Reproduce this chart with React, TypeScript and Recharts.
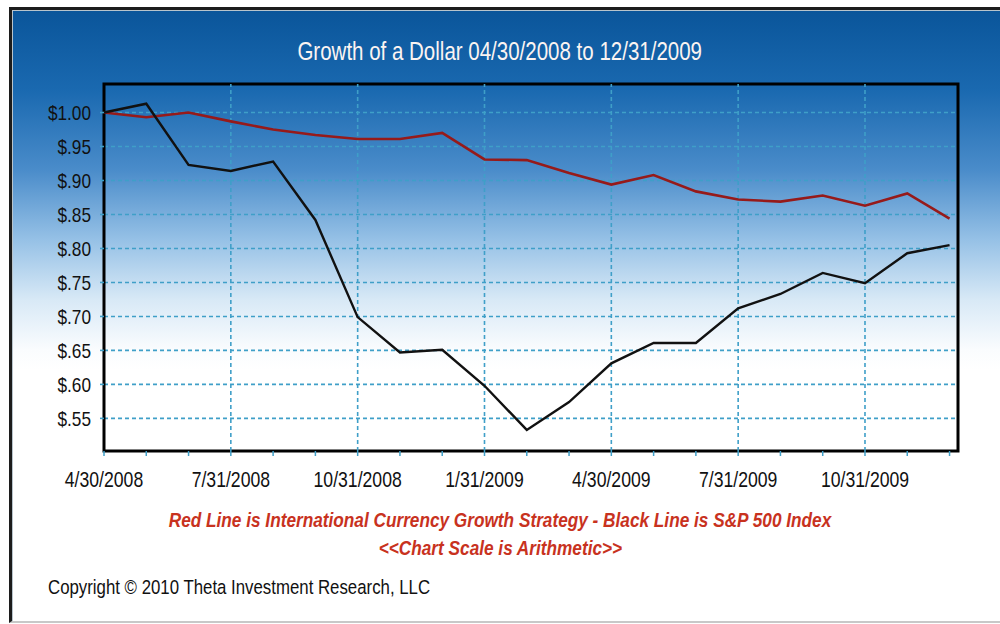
import React from 'react';
import { LineChart, Line, XAxis, YAxis, CartesianGrid, ReferenceLine, ReferenceArea } from 'recharts';

const monthLabels = [
  '4/30/2008', '5/31/2008', '6/30/2008', '7/31/2008', '8/31/2008', '9/30/2008',
  '10/31/2008', '11/30/2008', '12/31/2008', '1/31/2009', '2/28/2009', '3/31/2009',
  '4/30/2009', '5/31/2009', '6/30/2009', '7/31/2009', '8/31/2009', '9/30/2009',
  '10/31/2009', '11/30/2009', '12/31/2009',
];
const strategyValues = [
  1.0, 0.993, 1.0, 0.987, 0.975, 0.967, 0.961, 0.961, 0.97, 0.931, 0.93,
  0.911, 0.894, 0.908, 0.884, 0.872, 0.869, 0.878, 0.863, 0.881, 0.844,
];
const sp500Values = [
  1.0, 1.013, 0.923, 0.914, 0.928, 0.842, 0.699, 0.647, 0.651, 0.598, 0.533,
  0.574, 0.631, 0.661, 0.661, 0.712, 0.733, 0.764, 0.749, 0.793, 0.805,
];
const yTicks = [0.55, 0.6, 0.65, 0.7, 0.75, 0.8, 0.85, 0.9, 0.95, 1.0];
const yDomain = [0.502, 1.042];
const xDomain = [0, 20.2];
const labelEvery = 3;
const gridTicks = [3, 6, 9, 12, 15, 18];

const data = monthLabels.map((m, i) => ({
  idx: i,
  month: m,
  strategy: strategyValues[i],
  sp500: sp500Values[i],
}));
const allTicks = data.map((d) => d.idx);

const FONT = "'Liberation Sans', Arial, sans-serif";
const SX = 0.82;
const GRID = '#3f9fc8';

const fmtY = (v: number) => (v >= 1 ? '$' + v.toFixed(2) : '$' + v.toFixed(2).slice(1));

const XTick = (props: any) => {
  const { x, y, payload } = props;
  const i = payload.value as number;
  if (i % labelEvery !== 0) return <g />;
  return (
    <g transform={`translate(${x},${y}) scale(${SX},1)`}>
      <text x={0} y={0} dy="0.71em" textAnchor="middle" fontFamily={FONT} fontSize={21.5} fill="#111">
        {monthLabels[i]}
      </text>
    </g>
  );
};

const YTick = (props: any) => {
  const { x, y, payload } = props;
  return (
    <g transform={`translate(${x},${y}) scale(${SX},1)`}>
      <text x={0} y={0} dy="0.355em" textAnchor="end" fontFamily={FONT} fontSize={21} fill="#111">
        {fmtY(payload.value)}
      </text>
    </g>
  );
};

const narrow = (origin: string): React.CSSProperties => ({
  display: 'inline-block',
  transform: `scaleX(${SX})`,
  transformOrigin: origin,
  whiteSpace: 'nowrap',
});

export default function App() {
  return (
    <div style={{ position: 'absolute', left: 0, top: 0, width: 1000, height: 624, overflow: 'hidden', background: '#fff' }}>
      <div
        style={{
          position: 'absolute',
          left: 9,
          top: 7,
          width: 1000,
          height: 611,
          borderTop: '3px solid #1c1c1c',
          borderLeft: '3px solid #1c1c1c',
          borderBottom: '2px solid #c8c8c8',
          boxShadow: 'inset 1px 1px 0 #b8c4cc',
          background:
            'linear-gradient(to bottom, #0a559a 0px, #1a69b0 80px, #4a8cca 160px, #96c1e6 230px, #d8e9f6 290px, #fafcfe 340px, #ffffff 360px)',
        }}
      />
      <div
        style={{
          position: 'absolute',
          left: 0,
          width: 1000,
          top: 37,
          textAlign: 'center',
          fontFamily: FONT,
          fontSize: 25,
          color: '#fbf4f2',
        }}
      >
        <span style={narrow('center')}>Growth of a Dollar 04/30/2008 to 12/31/2009</span>
      </div>
      <div style={{ position: 'absolute', left: 0, top: 0 }}>
        <LineChart width={1000} height={624} data={data} margin={{ top: 84, right: 42, bottom: 143, left: 44 }}>
          <CartesianGrid
            vertical={false}
            stroke={GRID}
            strokeWidth={1.6}
            strokeDasharray="4 3"
            horizontalValues={yTicks}
          />
          {gridTicks.map((t) => (
            <ReferenceLine
              key={t}
              x={t}
              stroke={GRID}
              strokeWidth={1.6}
              strokeDasharray="4 3"
            />
          ))}
          <XAxis
            dataKey="idx"
            type="number"
            domain={xDomain}
            ticks={allTicks}
            interval={0}
            height={30}
            tick={XTick}
            tickSize={5}
            tickMargin={16}
            tickLine={{ stroke: GRID, strokeWidth: 1.5 }}
            axisLine={false}
          />
          <YAxis
            type="number"
            domain={yDomain}
            ticks={yTicks}
            interval={0}
            width={60}
            tick={YTick}
            tickSize={4}
            tickMargin={9}
            tickLine={{ stroke: GRID, strokeWidth: 1.6 }}
            axisLine={false}
          />
          <Line
            dataKey="strategy"
            stroke="#961a1a"
            strokeWidth={2.6}
            dot={false}
            isAnimationActive={false}
          />
          <Line
            dataKey="sp500"
            stroke="#111"
            strokeWidth={2.4}
            dot={false}
            isAnimationActive={false}
          />
          <ReferenceArea
            x1={xDomain[0]}
            x2={xDomain[1]}
            y1={yDomain[0]}
            y2={yDomain[1]}
            fill="none"
            fillOpacity={0}
            stroke="#000"
            strokeWidth={3}
            ifOverflow="visible"
          />
        </LineChart>
      </div>
      <div
        style={{
          position: 'absolute',
          left: 0,
          width: 1000,
          top: 506,
          textAlign: 'center',
          fontFamily: FONT,
          fontSize: 21,
          fontStyle: 'italic',
          fontWeight: 'bold',
          color: '#c8321e',
          lineHeight: '28px',
        }}
      >
        <div><span style={narrow('center')}>Red Line is International Currency Growth Strategy - Black Line is S&amp;P 500 Index</span></div>
        <div><span style={narrow('center')}>&lt;&lt;Chart Scale is Arithmetic&gt;&gt;</span></div>
      </div>
      <div
        style={{
          position: 'absolute',
          left: 48,
          top: 575,
          fontFamily: FONT,
          fontSize: 20.5,
          color: '#111',
        }}
      >
        <span style={narrow('left')}>Copyright © 2010 Theta Investment Research, LLC</span>
      </div>
    </div>
  );
}
